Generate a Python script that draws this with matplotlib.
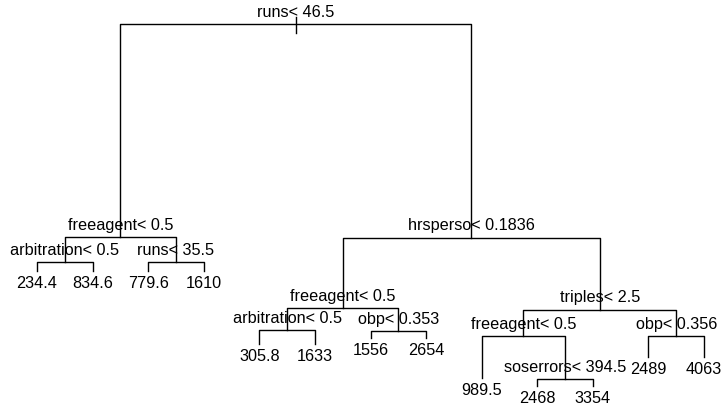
import matplotlib
matplotlib.use("Agg")
import matplotlib.pyplot as plt

# arbol de regresion (numeracion tipo rpart: hijos de n son 2n y 2n+1)
node_ids = [1, 2, 4, 8, 9, 5, 10, 11, 3, 6, 12, 24, 25, 13, 26, 27,
            7, 14, 28, 29, 58, 59, 15, 30, 31]
node_labels = ["runs< 46.5", "freeagent< 0.5", "arbitration< 0.5", "234.4", "834.6",
               "runs< 35.5", "779.6", "1610", "hrsperso< 0.1836", "freeagent< 0.5",
               "arbitration< 0.5", "305.8", "1633", "obp< 0.353", "1556", "2654",
               "triples< 2.5", "freeagent< 0.5", "989.5", "soserrors< 394.5",
               "2468", "3354", "obp< 0.356", "2489", "4063"]
# altura de cada nodo (proporcional a la deviance)
node_heights = [1.000, 0.408, 0.339, 0.314, 0.314, 0.339, 0.314, 0.314, 0.406, 0.211,
                0.150, 0.111, 0.111, 0.147, 0.128, 0.128, 0.206, 0.133, 0.017, 0.014,
                -0.006, -0.006, 0.133, 0.075, 0.075]

label = dict(zip(node_ids, node_labels))
height = dict(zip(node_ids, node_heights))

# posiciones x: hojas en orden 1..n, nodos internos en el punto medio
xpos = {}
contador = [0]

def asignar_x(n):
    if 2 * n in label:
        asignar_x(2 * n)
        asignar_x(2 * n + 1)
        xpos[n] = (xpos[2 * n] + xpos[2 * n + 1]) / 2
    else:
        contador[0] += 1
        xpos[n] = contador[0]

asignar_x(1)

plt.rcParams['font.family'] = ['Liberation Sans', 'DejaVu Sans']
fig = plt.figure(figsize=(7.24, 4.03), dpi=100)
ax = fig.add_axes([0, 0, 1, 1])
ax.set_xlim(0.334, 13.36)
ax.set_ylim(-0.0528, 1.0667)
ax.axis("off")

lw = 1.0
# marca sobre la raiz
ax.plot([xpos[1], xpos[1]], [height[1] + 0.02, height[1] - 0.025], color="black", lw=lw)

for n in node_ids:
    x, y = xpos[n], height[n]
    if 2 * n in label:
        izq, der = 2 * n, 2 * n + 1
        ax.plot([xpos[izq], xpos[izq], xpos[der], xpos[der]],
                [height[izq], y, y, height[der]], color="black", lw=lw)
        ax.annotate(label[n], (x, y), xytext=(0, 8.6), textcoords="offset points",
                    ha="center", va="center", fontsize=11.7)
    else:
        ax.annotate(label[n], (x, y), xytext=(0, -8.8), textcoords="offset points",
                    ha="center", va="center", fontsize=11.7)

fig.savefig("out.png", dpi=100)
